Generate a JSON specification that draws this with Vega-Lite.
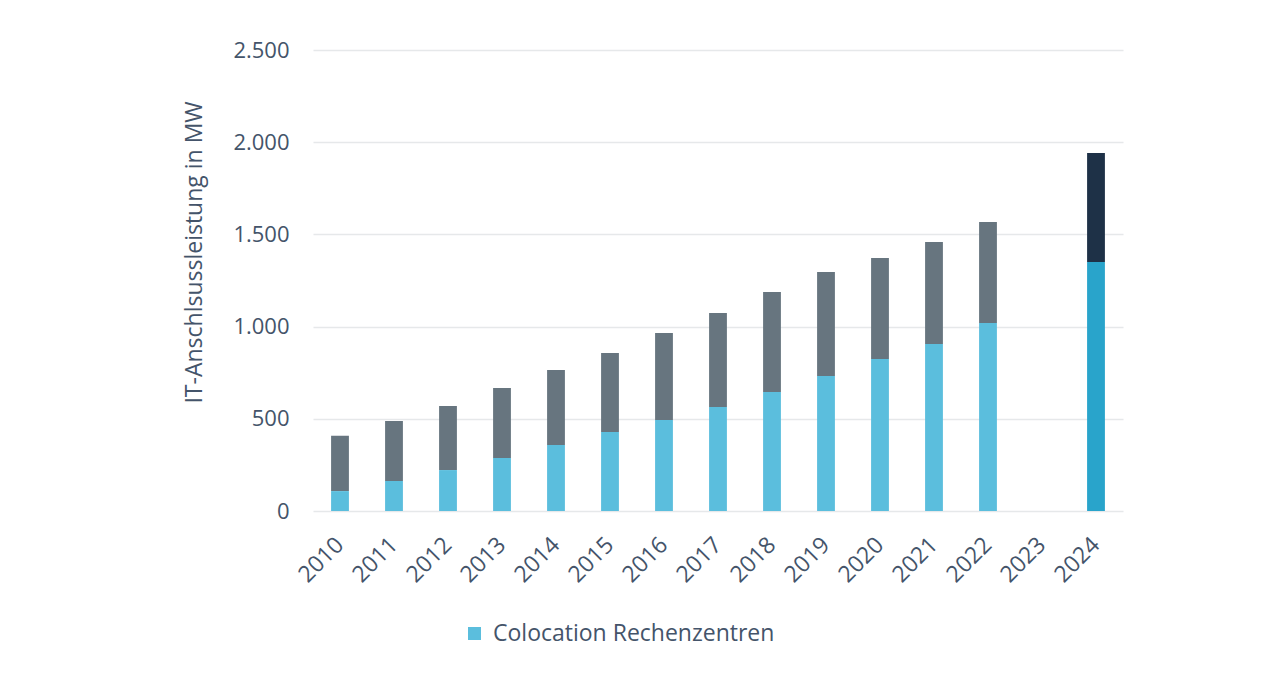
{
  "$schema": "https://vega.github.io/schema/vega-lite/v6.json",
  "width": 810,
  "height": 461,
  "autosize": "none",
  "padding": {"left": 313, "top": 50, "right": 146, "bottom": 182},
  "background": "white",
  "config": {
    "font": "Open Sans",
    "view": {"stroke": null},
    "axis": {"labelColor": "#44546A", "titleColor": "#44546A", "labelFont": "Open Sans", "titleFont": "Open Sans"}
  },
  "data": {
    "values": [
      {"year": "2010", "segment": "Colocation Rechenzentren", "value": 108, "ord": 1},
      {"year": "2010", "segment": "Sonstige", "value": 300, "ord": 2},
      {"year": "2011", "segment": "Colocation Rechenzentren", "value": 163, "ord": 1},
      {"year": "2011", "segment": "Sonstige", "value": 325, "ord": 2},
      {"year": "2012", "segment": "Colocation Rechenzentren", "value": 222, "ord": 1},
      {"year": "2012", "segment": "Sonstige", "value": 347, "ord": 2},
      {"year": "2013", "segment": "Colocation Rechenzentren", "value": 287, "ord": 1},
      {"year": "2013", "segment": "Sonstige", "value": 380, "ord": 2},
      {"year": "2014", "segment": "Colocation Rechenzentren", "value": 358, "ord": 1},
      {"year": "2014", "segment": "Sonstige", "value": 407, "ord": 2},
      {"year": "2015", "segment": "Colocation Rechenzentren", "value": 428, "ord": 1},
      {"year": "2015", "segment": "Sonstige", "value": 429, "ord": 2},
      {"year": "2016", "segment": "Colocation Rechenzentren", "value": 493, "ord": 1},
      {"year": "2016", "segment": "Sonstige", "value": 472, "ord": 2},
      {"year": "2017", "segment": "Colocation Rechenzentren", "value": 564, "ord": 1},
      {"year": "2017", "segment": "Sonstige", "value": 510, "ord": 2},
      {"year": "2018", "segment": "Colocation Rechenzentren", "value": 645, "ord": 1},
      {"year": "2018", "segment": "Sonstige", "value": 543, "ord": 2},
      {"year": "2019", "segment": "Colocation Rechenzentren", "value": 732, "ord": 1},
      {"year": "2019", "segment": "Sonstige", "value": 564, "ord": 2},
      {"year": "2020", "segment": "Colocation Rechenzentren", "value": 824, "ord": 1},
      {"year": "2020", "segment": "Sonstige", "value": 548, "ord": 2},
      {"year": "2021", "segment": "Colocation Rechenzentren", "value": 906, "ord": 1},
      {"year": "2021", "segment": "Sonstige", "value": 553, "ord": 2},
      {"year": "2022", "segment": "Colocation Rechenzentren", "value": 1020, "ord": 1},
      {"year": "2022", "segment": "Sonstige", "value": 547, "ord": 2},
      {"year": "2024", "segment": "Colocation Rechenzentren 2024", "value": 1350, "ord": 1},
      {"year": "2024", "segment": "Sonstige 2024", "value": 591, "ord": 2}
    ]
  },
  "mark": {"type": "bar"},
  "encoding": {
    "x": {
      "field": "year",
      "type": "nominal",
      "scale": {"domain": ["2010","2011","2012","2013","2014","2015","2016","2017","2018","2019","2020","2021","2022","2023","2024"], "paddingInner": 0.67, "paddingOuter": 0.335},
      "axis": {"title": null, "labelAngle": -45, "labelAlign": "right", "labelBaseline": "middle", "labelPadding": 30, "labelFontSize": 23, "ticks": false, "domain": false, "grid": false}
    },
    "y": {
      "field": "value",
      "type": "quantitative",
      "stack": "zero",
      "scale": {"domain": [0, 2500]},
      "axis": {"title": "IT-Anschlsussleistung in MW", "values": [0, 500, 1000, 1500, 2000, 2500], "labelExpr": "replace(format(datum.value, ','), ',', '.')", "labelFontSize": 22, "titleFontSize": 23, "titleFontWeight": "normal", "labelPadding": 24, "titlePadding": 26, "titleY": 202, "ticks": false, "domain": false, "grid": true, "gridColor": "#E6E8EA", "gridWidth": 1.5}
    },
    "color": {
      "field": "segment",
      "type": "nominal",
      "scale": {"domain": ["Colocation Rechenzentren", "Sonstige", "Colocation Rechenzentren 2024", "Sonstige 2024"], "range": ["#5BBEDD", "#67757F", "#29A4CB", "#1E3147"]},
      "legend": {"values": ["Colocation Rechenzentren"], "title": null, "orient": "none", "legendX": 150, "legendY": 572, "symbolType": "square", "symbolSize": 170, "symbolStrokeWidth": 0, "labelFontSize": 23, "labelLimit": 0, "labelColor": "#44546A", "labelFont": "Open Sans", "labelOffset": 7}
    },
    "order": {"field": "ord", "type": "quantitative"}
  }
}
